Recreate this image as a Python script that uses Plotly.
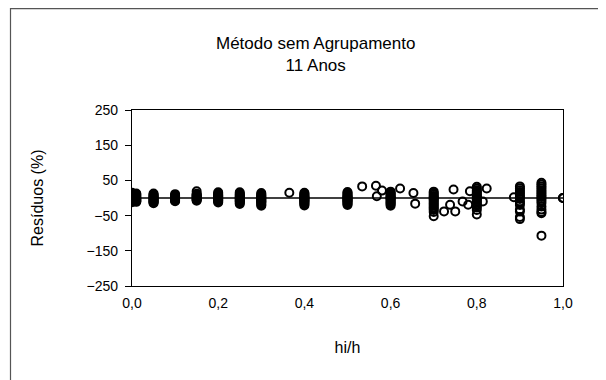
import plotly.graph_objects as go

# Relative height positions (hi/h) of each measurement group
col_x = [0.0, 0.01, 0.05, 0.10, 0.15, 0.20, 0.25, 0.30, 0.365, 0.40, 0.50,
         0.534, 0.566, 0.568, 0.58, 0.60, 0.622, 0.653, 0.657, 0.70,
         0.724, 0.738, 0.746, 0.75, 0.767, 0.78, 0.784, 0.80, 0.814, 0.823,
         0.886, 0.90, 0.95, 1.0]

# Residuals (%) for each group
col_res = [
    [15, 12, 9, 6, 4, 2, 0, -2, -4, -6, -8, -10, -12],
    [13, 10, 7, 4, 1, -1, -3, -5, -7, -9, -11],
    [13, 10, 8, 5, 3, 1, -1, -3, -5, -7, -9, -11, -13, -15],
    [11, 8, 6, 4, 2, 0, -2, -4, -6, -8, -9],
    [19, 12, 10, 8, 6, 4, 2, 0, -2, -4, -6, -8],
    [16, 13, 10, 8, 6, 4, 2, 0, -2, -4, -6, -8, -10, -13],
    [16, 13, 10, 8, 5, 3, 1, -1, -3, -5, -7, -9, -11, -14, -17],
    [14, 11, 8, 6, 3, 1, -1, -3, -5, -7, -9, -11, -13, -16, -19, -22],
    [15],
    [15, 12, 9, 6, 4, 2, 0, -2, -4, -6, -8, -10, -12, -15, -18, -21],
    [17, 14, 11, 8, 5, 3, 1, -1, -3, -5, -7, -9, -11, -14, -17, -20],
    [33],
    [35],
    [5],
    [21],
    [18, 15, 12, 9, 6, 3, 1, -1, -3, -6, -9, -12, -15, -18, -22],
    [27],
    [14],
    [-16],
    [18, 14, 10, 6, 3, 0, -3, -6, -10, -14, -18, -22, -26, -30, -34, -40, -52],
    [-38],
    [-19],
    [24],
    [-38],
    [-10],
    [-19],
    [19],
    [32, 27, 22, 18, 14, 10, 6, 3, 0, -3, -6, -10, -14, -18, -22, -27, -34, -47],
    [-10],
    [27],
    [2],
    [33, 28, 22, 17, 12, 6, 2, -3, -10, -14, -20, -33, -38, -54, -60],
    [43, 38, 33, 28, 22, 17, 12, 7, 3, -2, -8, -14, -24, -33, -40, -43, -107],
    [0, 0, 0],
]

x_ticks = [0.0, 0.2, 0.4, 0.6, 0.8, 1.0]
y_ticks = [-250, -150, -50, 50, 150, 250]

xs, ys = [], []
for cx, vals in zip(col_x, col_res):
    for v in vals:
        xs.append(cx)
        ys.append(v)

W, H = 606, 380
OFF = 8  # page body margin
L, R, T, B = 124, 51, 102, 102
pw, ph = W - L - R, H - T - B

def px(x):
    return (x - OFF - L) / pw

def py(y):
    return (H - B - (y - OFF)) / ph

fig = go.Figure()
fig.add_trace(go.Scatter(x=[0, 1], y=[0, 0], mode="lines",
                         line=dict(color="black", width=1.5),
                         hoverinfo="skip", showlegend=False))
fig.add_trace(go.Scatter(x=xs, y=ys, mode="markers",
                         marker=dict(symbol="circle-open", size=8, color="black",
                                     line=dict(width=2, color="black")),
                         showlegend=False))

font = "Liberation Sans, Arial, sans-serif"
fig.update_layout(
    width=W, height=H,
    margin=dict(l=L, r=R, t=T, b=B, pad=0),
    paper_bgcolor="white", plot_bgcolor="white",
    separators=",.",
    font=dict(family=font, color="black", size=14),
    showlegend=False,
    xaxis=dict(range=[0, 1], tickvals=x_ticks, tickformat=".1f",
               showgrid=False, zeroline=False, showline=True,
               linecolor="black", linewidth=1.2, mirror=True,
               ticks="", tickfont=dict(size=14), ticklabelstandoff=4,
               title=dict(text="hi/h", font=dict(size=16), standoff=31)),
    yaxis=dict(range=[-250, 250], tickvals=y_ticks,
               showgrid=False, zeroline=False, showline=True,
               linecolor="black", linewidth=1.2, mirror=True,
               ticks="outside", ticklen=6, tickwidth=1.2, tickcolor="black",
               tickfont=dict(size=14), ticklabelstandoff=4,
               title=dict(text="Resíduos (%)", font=dict(size=16), standoff=38)),
    annotations=[
        dict(text="Método sem Agrupamento<br>11 Anos", xref="paper", yref="paper",
             x=px(315), y=py(54), xanchor="center", yanchor="middle",
             showarrow=False, font=dict(size=17, family=font)),
    ],
    shapes=[
        dict(type="rect", xref="paper", yref="paper",
             x0=px(10.5), x1=px(603.5), y0=py(400), y1=py(8.7),
             line=dict(color="#555555", width=1.2), fillcolor="rgba(0,0,0,0)",
             layer="below"),
    ],
)

fig.write_html("out.html")
